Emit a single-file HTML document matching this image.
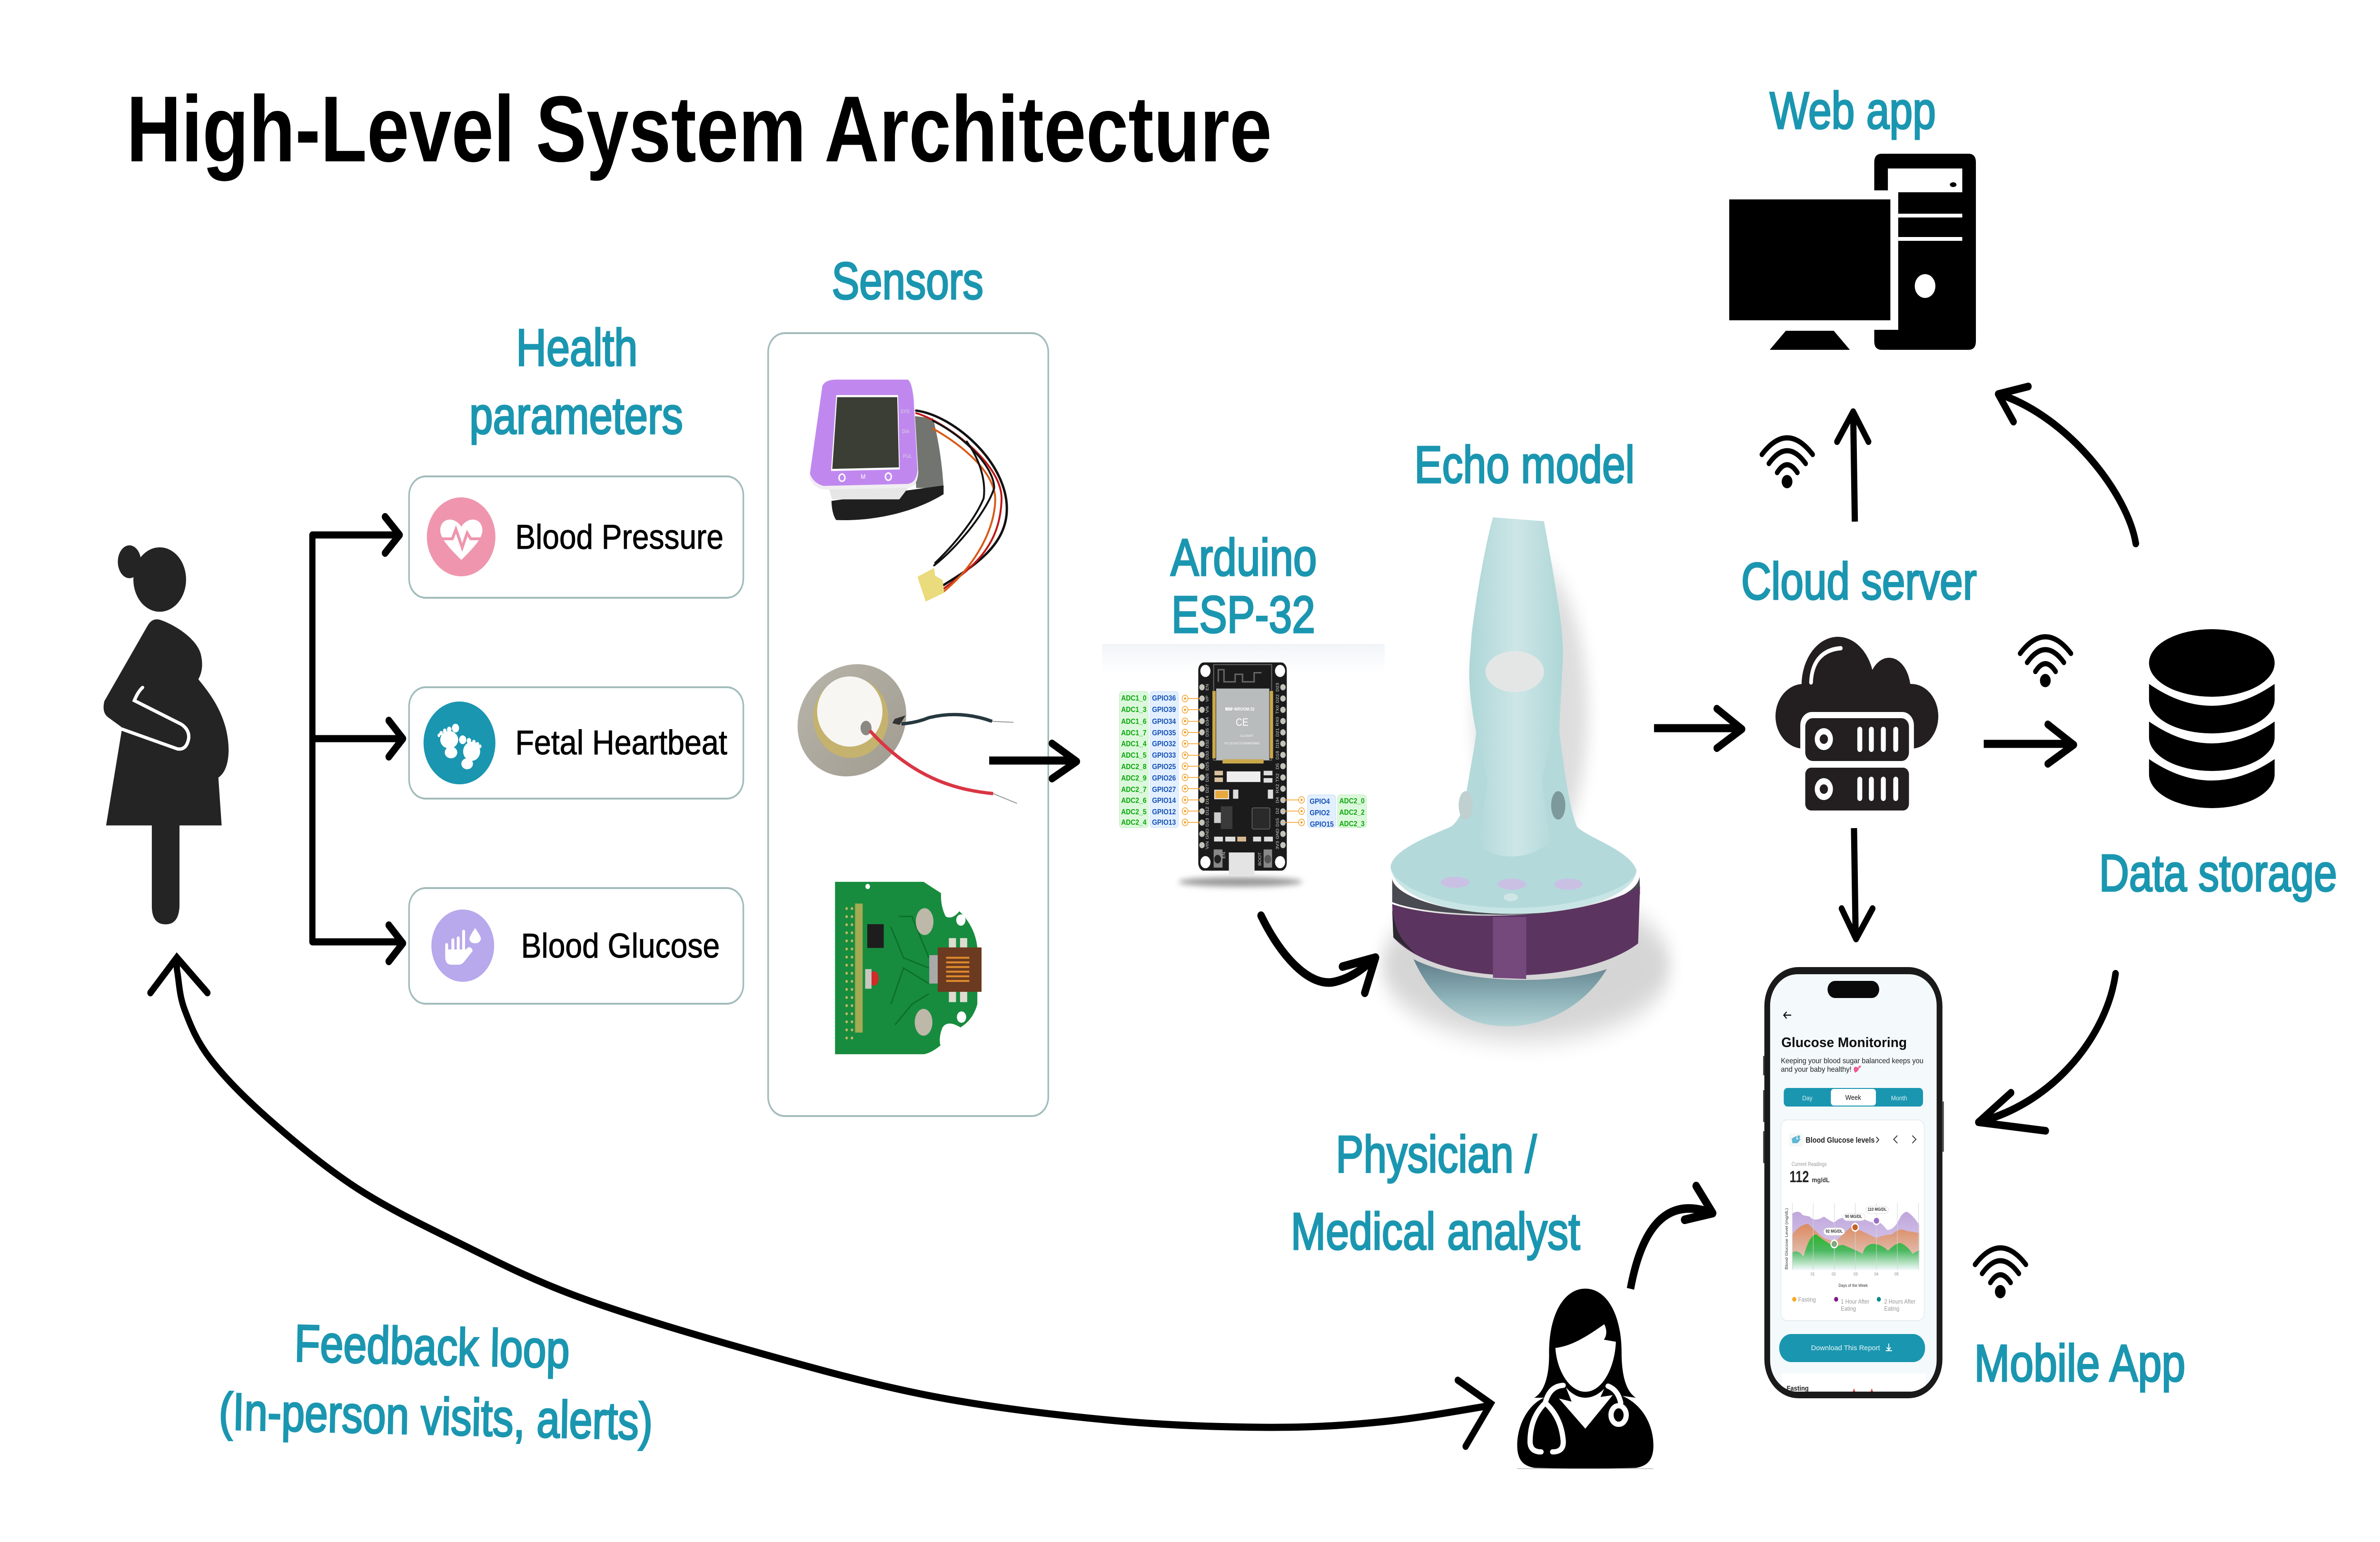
<!DOCTYPE html>
<html><head><meta charset="utf-8"><title>High-Level System Architecture</title>
<style>
html,body{margin:0;padding:0;background:#fff;width:100%;height:100%;overflow:hidden}
svg{display:block;width:100%;height:100%;font-family:"Liberation Sans",sans-serif}
.t{fill:#1b96b0;stroke:#1b96b0;stroke-width:3.5;font-size:110px}
.c{fill:#000;stroke:#000;stroke-width:1;font-size:72px}
.a{fill:none;stroke:#000;stroke-width:16;stroke-linecap:round;stroke-linejoin:round}
.m{fill:none;stroke:#000;stroke-width:15;stroke-linecap:round;stroke-linejoin:miter;stroke-miterlimit:8}
.b{fill:none;stroke:#000;stroke-width:17;stroke-linejoin:round}
.n{vector-effect:non-scaling-stroke}
.g{fill:#08a808;font-size:16px;font-weight:bold;text-anchor:middle}
.u{fill:#1450b8;font-size:16px;font-weight:bold;text-anchor:middle}
.p{fill:#ddd;font-size:10px;text-anchor:middle}
.w{fill:none;stroke:#000;stroke-width:11;stroke-linecap:round}
</style></head><body>
<svg xmlns="http://www.w3.org/2000/svg" viewBox="0 0 5760 3240" preserveAspectRatio="none">
<defs>
<linearGradient id="pg" x1="0" y1="0" x2="0" y2="1"><stop offset="0" stop-color="#bfa6dc"/><stop offset=".65" stop-color="#d8c8ea"/><stop offset="1" stop-color="#fff"/></linearGradient>
<linearGradient id="og" x1="0" y1="0" x2="0" y2="1"><stop offset="0" stop-color="#dc8a60"/><stop offset=".6" stop-color="#e0b8a8"/><stop offset="1" stop-color="#fff"/></linearGradient>
<linearGradient id="gg" x1="0" y1="0" x2="0" y2="1"><stop offset="0" stop-color="#2db52d"/><stop offset=".45" stop-color="#4cb860"/><stop offset="1" stop-color="#f4fafc"/></linearGradient>
<linearGradient id="bowl" x1="0" y1="0" x2="0" y2="1"><stop offset="0" stop-color="#5e7c88"/><stop offset=".6" stop-color="#8fb4ba"/><stop offset="1" stop-color="#b4d4d6"/></linearGradient>
<linearGradient id="neck" x1="0" y1="0" x2="1" y2="0"><stop offset="0" stop-color="#aed6d7"/><stop offset=".5" stop-color="#cde6e7"/><stop offset="1" stop-color="#aed6d7"/></linearGradient>
<linearGradient id="ring" x1="0" y1="0" x2="1" y2="1"><stop offset="0" stop-color="#b8b4aa"/><stop offset="1" stop-color="#a09c90"/></linearGradient>
<linearGradient id="ardbg" x1="0" y1="0" x2="0" y2="1"><stop offset="0" stop-color="#f1f4f8"/><stop offset="1" stop-color="#fff"/></linearGradient>
<filter id="blur" x="-30%" y="-30%" width="160%" height="160%"><feGaussianBlur stdDeviation="32"/></filter>
<filter id="blur2" x="-30%" y="-100%" width="160%" height="300%"><feGaussianBlur stdDeviation="6"/></filter>
<clipPath id="scr"><rect x="4284" y="2047" width="403" height="877" rx="66"/></clipPath>
</defs>

<rect width="5760" height="3240" fill="#fff"/>

<!-- Title and labels -->
<text x="306" y="339" font-size="197" font-weight="bold" textLength="2772" lengthAdjust="spacingAndGlyphs">High-Level System Architecture</text>
<text class="t" x="1249" y="768" textLength="294" lengthAdjust="spacingAndGlyphs">Health</text>
<text class="t" x="1136" y="911" textLength="517" lengthAdjust="spacingAndGlyphs">parameters</text>
<text class="t" x="2013" y="628" textLength="367" lengthAdjust="spacingAndGlyphs">Sensors</text>
<text class="t" x="2833" y="1209" textLength="354" lengthAdjust="spacingAndGlyphs">Arduino</text>
<text class="t" x="2835" y="1329" textLength="348" lengthAdjust="spacingAndGlyphs">ESP-32</text>
<text class="t" x="3423" y="1014" textLength="533" lengthAdjust="spacingAndGlyphs">Echo model</text>
<text class="t" x="4214" y="1259" textLength="570" lengthAdjust="spacingAndGlyphs">Cloud server</text>
<text class="t" x="5080" y="1872" textLength="576" lengthAdjust="spacingAndGlyphs">Data storage</text>
<text class="t" x="4283" y="270" textLength="402" lengthAdjust="spacingAndGlyphs">Web app</text>
<text class="t" x="3233" y="2463" textLength="486" lengthAdjust="spacingAndGlyphs">Physician /</text>
<text class="t" x="3124" y="2625" textLength="700" lengthAdjust="spacingAndGlyphs">Medical analyst</text>
<text class="t" x="4778" y="2902" textLength="511" lengthAdjust="spacingAndGlyphs">Mobile App</text>
<text class="t" transform="rotate(1.2 712 2860)" x="712" y="2860" textLength="666" lengthAdjust="spacingAndGlyphs">Feedback loop</text>
<text class="t" transform="rotate(1.2 529 3003)" x="529" y="3003" textLength="1050" lengthAdjust="spacingAndGlyphs">(In-person visits, alerts)</text>

<!-- Pregnant figure -->
<g transform="translate(200 1100) scale(.3189 .5741)" fill="#242424">
<ellipse cx="585" cy="205" rx="200" ry="118"/>
<ellipse cx="355" cy="140" rx="88" ry="60"/>
<path d="M495 372Q530 345 585 352C700 370 860 420 895 475Q925 530 878 570C980 630 1105 710 1108 830Q1105 905 1030 930L1055 1105L735 1105L735 1400Q730 1467 630 1467Q525 1467 525 1400L525 1105L178 1105L295 762L295 745L190 708Q145 690 165 650Z"/>
<path class="n" d="M455 600Q420 615 392 648L750 735Q810 755 805 785Q790 830 720 825L295 752" fill="none" stroke="#fff" stroke-width="7" stroke-linecap="round"/>
</g>

<!-- Bracket arrows -->
<path d="M967 1124H756V1979H975M756 1552H975" fill="none" stroke="#000" stroke-width="15" stroke-linejoin="round"/>
<path class="a" d="M932 1086L967 1124L932 1162M941 1514L975 1552L941 1590M941 1944L975 1982L941 2020"/>

<!-- Cards -->
<g fill="#fff" stroke="#a3bcbc" stroke-width="4">
<rect x="990" y="1001" width="809" height="255" rx="40"/>
<rect x="990" y="1444" width="809" height="234" rx="40"/>
<rect x="990" y="1866" width="809" height="243" rx="40"/>
<rect x="1859" y="700" width="678" height="1645" rx="40"/>
</g>
<circle cx="1116" cy="1128" r="83" fill="#ef96ae"/>
<circle cx="1112" cy="1561" r="87" fill="#1a96b0"/>
<circle cx="1120" cy="1987" r="76" fill="#b8a8ec"/>
<text class="c" x="1247" y="1153" textLength="504" lengthAdjust="spacingAndGlyphs">Blood Pressure</text>
<text class="c" x="1247" y="1585" textLength="513" lengthAdjust="spacingAndGlyphs">Fetal Heartbeat</text>
<text class="c" x="1261" y="2012" textLength="481" lengthAdjust="spacingAndGlyphs">Blood Glucose</text>
<g transform="translate(200 950) scale(1.0846 .765)">
<path d="M845 205C830 175 798 180 798 215C798 235 815 260 845 296C875 260 892 235 892 215C892 180 860 175 845 205Z" fill="#fff"/>
<path class="n" d="M795 238H825L833 212L847 262L858 222L866 238H895" fill="none" stroke="#ef96ae" stroke-width="6"/>
<g fill="#fff">
<ellipse cx="818" cy="790" rx="20" ry="24"/><ellipse cx="822" cy="825" rx="14" ry="16"/>
<ellipse cx="832" cy="758" rx="8" ry="12"/><ellipse cx="818" cy="762" rx="5" ry="8"/><ellipse cx="808" cy="766" rx="4" ry="7"/><ellipse cx="800" cy="772" rx="4" ry="6"/><ellipse cx="795" cy="778" rx="3" ry="5"/>
<ellipse cx="868" cy="822" rx="19" ry="26"/><ellipse cx="858" cy="856" rx="13" ry="15"/>
<ellipse cx="848" cy="790" rx="8" ry="12"/><ellipse cx="862" cy="793" rx="5" ry="8"/><ellipse cx="873" cy="797" rx="4" ry="7"/><ellipse cx="881" cy="802" rx="4" ry="6"/><ellipse cx="887" cy="808" rx="3" ry="5"/>
</g>
</g>
<path d="M1081 1985V1998M1096 1975V1998M1109 1971V1998M1122 1957V1998" stroke="#fff" stroke-width="7" stroke-linecap="round" fill="none"/>
<path d="M1077.5 1995H1125.5V1996L1134 1990Q1142 1990 1144 1998L1124 2020Q1118 2027 1110 2027H1092Q1079 2027 1077.5 2013Z" fill="#fff"/>
<path d="M1150 1950Q1164 1968 1164 1972Q1162 1982 1150 1982Q1137 1982 1136 1972Q1137 1966 1150 1950Z" fill="#fff"/>

<!-- Sensors panel images -->
<g transform="translate(1850 700) scale(.5102 1.0846)">
<path d="M700 160L800 165Q840 230 850 300L720 300Z" fill="#72756f"/>
<path d="M318 325L850 295V312C700 350 500 365 340 362Q320 350 318 325Z" fill="#1f1f1f"/>
<path d="M300 290H700L640 322H320Z" fill="#e6e6e6"/>
<path d="M275 105Q285 90 340 90H680Q705 95 710 130L730 270Q725 298 680 300L280 303Q225 298 213 278Z" fill="#f1eef2"/>
<path d="M275 102Q290 90 340 90H680Q700 95 708 130L726 265Q722 290 680 292L280 296Q230 290 216 272Z" fill="#c088ef"/>
<path d="M341 120H634L642 264L316 267Z" fill="#fff"/>
<path d="M345 124H630L638 260L322 263Z" fill="#3b3e35"/>
<ellipse cx="368" cy="280" rx="14" ry="7" fill="none" stroke="#fff" stroke-width="3" class="n"/>
<ellipse cx="588" cy="278" rx="14" ry="7" fill="none" stroke="#fff" stroke-width="3" class="n"/>
<g fill="none" stroke-linecap="round">
<path class="n" d="M720 150C900 160 1150 250 1150 340C1150 410 1000 450 850 488" stroke="#111" stroke-width="5"/>
<path class="n" d="M720 155C850 170 1125 250 1125 320C1120 410 1000 450 850 495" stroke="#c01818" stroke-width="4"/>
<path class="n" d="M800 185C950 220 1090 270 1095 320C1095 380 1000 450 852 500" stroke="#d85a18" stroke-width="4"/>
<path class="n" d="M800 170C950 200 1090 260 1090 300C1060 340 930 410 805 450" stroke="#111" stroke-width="4"/>
<path class="n" d="M960 210C1030 250 1050 290 1040 320C1000 360 900 410 810 445" stroke="#111" stroke-width="4"/>
</g>
<path d="M726 472L805 455L810 470L845 478L853 503L765 520Z" fill="#eadb7c"/>
<ellipse cx="415" cy="750" rx="258" ry="108" fill="url(#ring)" transform="rotate(-3 415 750)"/>
<ellipse cx="410" cy="745" rx="178" ry="78" fill="#c4b26e"/>
<ellipse cx="405" cy="733" rx="155" ry="68" fill="#f7f6f2"/>
<ellipse cx="482" cy="765" rx="26" ry="14" fill="#8a8880"/>
<path class="n" d="M620 748L665 742L640 758L610 755Z" fill="#333" stroke="#333" stroke-width="2"/>
<g fill="none">
<path class="n" d="M650 757Q720 755 780 745Q930 730 1080 752" stroke="#26383f" stroke-width="7"/>
<path class="n" d="M1080 752L1182 754M1085 892L1198 911" stroke="#999" stroke-width="2"/>
<path class="n" d="M500 770C700 860 900 885 1085 892" stroke="#d93544" stroke-width="7"/>
</g>
<path d="M335 1063L755 1063Q800 1075 838 1085Q835 1110 860 1130Q890 1137 925 1120Q1000 1150 1010 1190L1010 1300Q990 1330 930 1345Q870 1330 845 1345Q825 1365 835 1380Q790 1395 755 1397L335 1397Z" fill="#178c3e"/>
<g fill="none" stroke="#0d6f2c">
<path class="n" d="M600 1150L660 1210L780 1230M600 1300L660 1230L780 1260M640 1130H700L780 1210M620 1340L700 1300L780 1280" stroke-width="3"/>
</g>
<rect x="488" y="1145" width="78" height="46" fill="#1d1d1d"/>
<rect x="430" y="1105" width="36" height="250" fill="#c9b25a" opacity=".8"/>
<ellipse cx="760" cy="1140" rx="42" ry="26" fill="#bdb8a8"/>
<ellipse cx="755" cy="1335" rx="42" ry="26" fill="#bdb8a8"/>
<ellipse cx="520" cy="1250" rx="22" ry="14" fill="#d22a2a"/>
<rect x="478" y="1232" width="30" height="38" fill="#c8c8c0"/>
<ellipse cx="490" cy="1072" rx="11" ry="5" fill="#fff"/>
<ellipse cx="932" cy="1137" rx="22" ry="11" fill="#fff"/>
<ellipse cx="935" cy="1325" rx="22" ry="11" fill="#fff"/>
<rect x="875" y="1172" width="34" height="20" fill="#dedbcf"/><rect x="928" y="1172" width="34" height="20" fill="#dedbcf"/>
<rect x="875" y="1276" width="34" height="20" fill="#dedbcf"/><rect x="928" y="1276" width="34" height="20" fill="#dedbcf"/>
<rect x="782" y="1205" width="45" height="55" fill="#aaa"/>
<rect x="822" y="1190" width="208" height="86" fill="#6b3a20"/>
<path class="n" d="M862 1210H972M862 1219H972M862 1228H972M862 1237H972M862 1246H972M862 1255H972" stroke="#e08a2c" stroke-width="4" fill="none"/>
</g>
<path d="M2049 1909V2197M2062 1909V2197" stroke="#c7b565" stroke-width="6" stroke-linecap="round" stroke-dasharray="0 17" fill="none"/>
<g font-size="11" fill="#d8d4e0" text-anchor="middle">
<text x="2190" y="868">SYS</text><text x="2192" y="910">DIA</text><text x="2196" y="962">PUL</text>
<text x="2089" y="1006" font-size="14" fill="#fff">M</text>
</g>
<path class="b" d="M2394 1598H2605"/>
<path class="a" d="M2546 1562L2606 1600L2546 1636"/>

<!-- Arduino -->
<rect x="2667" y="1353" width="684" height="60" fill="url(#ardbg)"/>
<ellipse cx="3002" cy="1853" rx="150" ry="10" fill="#999" filter="url(#blur2)"/>
<rect x="2709" y="1453" width="70" height="286" rx="7" fill="#dcf8dc" stroke="#b8ecb8" stroke-width="1"/>
<rect x="2783" y="1453" width="69" height="286" rx="7" fill="#e2efff" stroke="#c8dcf5" stroke-width="1"/>
<rect x="3164" y="1670" width="69" height="69" rx="7" fill="#e2efff" stroke="#c8dcf5" stroke-width="1"/>
<rect x="3237" y="1670" width="70" height="69" rx="7" fill="#dcf8dc" stroke="#b8ecb8" stroke-width="1"/>
<g transform="translate(2650 1050) scale(.5102 .6378)">
<rect x="490" y="536" width="420" height="686" rx="26" fill="#1b1b1b"/>
<rect class="n" x="563" y="543" width="275" height="315" fill="none" stroke="#666" stroke-width="2"/>
<path class="n" d="M585 600V560H612V600H665V575H700V600H755V570H790" fill="none" stroke="#666" stroke-width="3"/>
<rect x="575" y="622" width="252" height="236" fill="#b9bcbc"/>
<rect x="557" y="630" width="16" height="222" fill="#caa84c"/>
<rect x="829" y="630" width="16" height="222" fill="#caa84c"/>
<rect x="605" y="855" width="195" height="14" fill="#caa84c"/>
<g fill="#fff">
<ellipse cx="524" cy="564" rx="24" ry="20"/><ellipse cx="878" cy="564" rx="24" ry="20"/>
<ellipse cx="524" cy="1194" rx="24" ry="20"/><ellipse cx="878" cy="1194" rx="24" ry="20"/>
</g>
<rect x="625" y="895" width="160" height="35" fill="#eee"/>
<rect class="n" x="568" y="957" width="66" height="28" fill="#e8a83c" stroke="#eee" stroke-width="2"/>
<rect x="655" y="955" width="25" height="30" fill="#ddd"/><rect x="820" y="955" width="25" height="30" fill="#ddd"/>
<rect x="567" y="893" width="40" height="15" fill="#d8c0a0"/><rect x="567" y="915" width="40" height="15" fill="#d8c0a0"/>
<rect x="800" y="893" width="42" height="15" fill="#ddd"/><rect x="800" y="917" width="42" height="15" fill="#ddd"/>
<rect x="597" y="1010" width="55" height="75" fill="#3a3a3a"/><rect x="565" y="1030" width="32" height="35" fill="#ccc"/>
<rect class="n" x="745" y="1015" width="85" height="70" rx="6" fill="#2a2a2a" stroke="#888" stroke-width="1"/>
<rect x="565" y="1110" width="42" height="16" fill="#ddd"/><rect x="618" y="1110" width="48" height="16" fill="#ddd"/><rect x="675" y="1110" width="42" height="16" fill="#d8b890"/>
<rect x="750" y="1110" width="38" height="16" fill="#ddd"/><rect x="802" y="1110" width="42" height="16" fill="#ddd"/>
<rect x="563" y="1152" width="42" height="60" fill="#888"/><ellipse cx="582" cy="1184" rx="16" ry="14" fill="#222"/>
<rect x="800" y="1152" width="40" height="60" fill="#888"/><ellipse cx="820" cy="1184" rx="16" ry="14" fill="#555"/>
<path d="M635 1162H757V1240H635Z" fill="#e4e4e4"/>
</g>
<path d="M2909 1444V1780M3105 1444V1780" stroke="#c4c4bc" stroke-width="13" stroke-linecap="round" stroke-dasharray="0 23.7" fill="none"/>
<g fill="none" stroke="#f59a1c" stroke-width="1.5">
<path d="M2868 1467.7H2905M2868 1491.3H2905M2868 1515.6H2905M2868 1539.2H2905M2868 1562.8H2905M2868 1587H2905M2868 1610H2905M2868 1633.5H2905M2868 1657H2905M2868 1680.7H2905M2868 1704.3H2905M2868 1728H2905M3108 1680.7H3150M3108 1704.3H3150M3108 1728H3150"/>
<g fill="#fff">
<circle cx="2868" cy="1467.7" r="7"/><circle cx="2868" cy="1491.3" r="7"/><circle cx="2868" cy="1515.6" r="7"/><circle cx="2868" cy="1539.2" r="7"/><circle cx="2868" cy="1562.8" r="7"/><circle cx="2868" cy="1587" r="7"/><circle cx="2868" cy="1610" r="7"/><circle cx="2868" cy="1633.5" r="7"/><circle cx="2868" cy="1657" r="7"/><circle cx="2868" cy="1680.7" r="7"/><circle cx="2868" cy="1704.3" r="7"/><circle cx="2868" cy="1728" r="7"/><circle cx="3150" cy="1680.7" r="7"/><circle cx="3150" cy="1704.3" r="7"/><circle cx="3150" cy="1728" r="7"/>
</g></g>
<path d="M2868 1467.7V1730M3150 1680.7V1730" stroke="#f59a1c" stroke-width="5" stroke-linecap="round" stroke-dasharray="0 23.66" fill="none"/>
<g>
<text class="g" x="2744" y="1472">ADC1_0</text><text class="g" x="2744" y="1496">ADC1_3</text><text class="g" x="2744" y="1521">ADC1_6</text><text class="g" x="2744" y="1545">ADC1_7</text><text class="g" x="2744" y="1568">ADC1_4</text><text class="g" x="2744" y="1592">ADC1_5</text><text class="g" x="2744" y="1616">ADC2_8</text><text class="g" x="2744" y="1640">ADC2_9</text><text class="g" x="2744" y="1664">ADC2_7</text><text class="g" x="2744" y="1687">ADC2_6</text><text class="g" x="2744" y="1711">ADC2_5</text><text class="g" x="2744" y="1733">ADC2_4</text>
<text class="u" x="2817" y="1472">GPIO36</text><text class="u" x="2817" y="1496">GPIO39</text><text class="u" x="2817" y="1521">GPIO34</text><text class="u" x="2817" y="1545">GPIO35</text><text class="u" x="2817" y="1568">GPIO32</text><text class="u" x="2817" y="1592">GPIO33</text><text class="u" x="2817" y="1616">GPIO25</text><text class="u" x="2817" y="1640">GPIO26</text><text class="u" x="2817" y="1664">GPIO27</text><text class="u" x="2817" y="1687">GPIO14</text><text class="u" x="2817" y="1711">GPIO12</text><text class="u" x="2817" y="1733">GPIO13</text>
<text class="u" x="3194" y="1689">GPIO4</text><text class="u" x="3194" y="1713">GPIO2</text><text class="u" x="3199" y="1737">GPIO15</text>
<text class="g" x="3272" y="1688">ADC2_0</text><text class="g" x="3272" y="1712">ADC2_2</text><text class="g" x="3272" y="1736">ADC2_3</text>
</g>
<g>
<text class="p" x="2925" y="1444" transform="rotate(-90 2925 1444)">EN</text><text class="p" x="2925" y="1468" transform="rotate(-90 2925 1468)">VP</text><text class="p" x="2925" y="1491" transform="rotate(-90 2925 1491)">VN</text><text class="p" x="2925" y="1516" transform="rotate(-90 2925 1516)">D34</text><text class="p" x="2925" y="1539" transform="rotate(-90 2925 1539)">D35</text><text class="p" x="2925" y="1563" transform="rotate(-90 2925 1563)">D32</text><text class="p" x="2925" y="1587" transform="rotate(-90 2925 1587)">D33</text><text class="p" x="2925" y="1610" transform="rotate(-90 2925 1610)">D25</text><text class="p" x="2925" y="1634" transform="rotate(-90 2925 1634)">D26</text><text class="p" x="2925" y="1657" transform="rotate(-90 2925 1657)">D27</text><text class="p" x="2925" y="1681" transform="rotate(-90 2925 1681)">D14</text><text class="p" x="2925" y="1704" transform="rotate(-90 2925 1704)">D12</text><text class="p" x="2925" y="1728" transform="rotate(-90 2925 1728)">D13</text><text class="p" x="2925" y="1752" transform="rotate(-90 2925 1752)">GND</text><text class="p" x="2925" y="1776" transform="rotate(-90 2925 1776)">VIN</text>
<text class="p" x="3095" y="1444" transform="rotate(-90 3095 1444)">D23</text><text class="p" x="3095" y="1468" transform="rotate(-90 3095 1468)">D22</text><text class="p" x="3095" y="1491" transform="rotate(-90 3095 1491)">TX0</text><text class="p" x="3095" y="1516" transform="rotate(-90 3095 1516)">RX0</text><text class="p" x="3095" y="1539" transform="rotate(-90 3095 1539)">D21</text><text class="p" x="3095" y="1563" transform="rotate(-90 3095 1563)">D19</text><text class="p" x="3095" y="1587" transform="rotate(-90 3095 1587)">D18</text><text class="p" x="3095" y="1610" transform="rotate(-90 3095 1610)">D5</text><text class="p" x="3095" y="1634" transform="rotate(-90 3095 1634)">TX2</text><text class="p" x="3095" y="1657" transform="rotate(-90 3095 1657)">RX2</text><text class="p" x="3095" y="1681" transform="rotate(-90 3095 1681)">D4</text><text class="p" x="3095" y="1704" transform="rotate(-90 3095 1704)">D2</text><text class="p" x="3095" y="1728" transform="rotate(-90 3095 1728)">D15</text><text class="p" x="3095" y="1752" transform="rotate(-90 3095 1752)">GND</text><text class="p" x="3095" y="1776" transform="rotate(-90 3095 1776)">3V3</text>
<text x="3001" y="1493" font-size="9" font-weight="bold" fill="#fff" text-anchor="middle">ESP-WROOM-32</text>
<text x="3006" y="1525" font-size="22" fill="#fff" text-anchor="middle">CE</text>
<text x="3017" y="1548" font-size="6" fill="#fff" text-anchor="middle">211-161007</text>
<text x="3006" y="1564" font-size="6" fill="#fff" text-anchor="middle">FCC ID:2AC7Z-ESPWROOM32</text>
<text x="2965" y="1493" font-size="8" fill="#fff" font-weight="bold">WiFi</text>
<text class="p" x="2965" y="1797" transform="rotate(-90 2965 1797)" font-size="11">EN</text>
<text class="p" x="3052" y="1805" transform="rotate(-90 3052 1805)" font-size="11">BOOT</text>
</g>
<path class="a" style="stroke-width:18" d="M3052 1924C3100 2010 3170 2075 3230 2063C3270 2055 3300 2035 3325 2014"/>
<path class="a" style="stroke-width:18" d="M3249 2031L3329 2012L3303 2086"/>

<!-- Echo -->
<g transform="translate(3200 1000) scale(.574 .829)">
<ellipse cx="860" cy="1240" rx="610" ry="190" fill="#000" opacity=".16" filter="url(#blur)"/>
<ellipse cx="880" cy="600" rx="240" ry="380" fill="#000" opacity=".13" filter="url(#blur)"/>
<path d="M288 990C300 950 420 920 540 890C590 870 600 830 620 760C640 690 650 660 650 640C620 560 620 480 630 400C650 300 690 170 720 105L935 115C960 200 990 290 1010 400C1020 480 1000 600 1000 650C1020 740 1040 840 1075 890C1130 920 1300 950 1325 1000C1320 1050 1100 1100 800 1100C500 1100 300 1060 288 990Z" fill="#b4d9da"/>
<path d="M385 1225C480 1350 620 1395 780 1395C950 1395 1110 1340 1200 1250C1000 1290 600 1290 385 1225Z" fill="url(#bowl)"/>
<path d="M295 1020C300 1060 500 1110 800 1110C1100 1110 1330 1070 1338 1015L1340 1060C1200 1120 500 1130 295 1080Z" fill="#4a4a52"/>
<path d="M295 1085C500 1130 1100 1130 1340 1040L1332 1185C1100 1290 500 1300 300 1170Z" fill="#5b3560"/>
<path d="M720 1118H860V1275L720 1272Z" fill="#75497c"/>
<path d="M295 1100C310 1150 320 1170 400 1215L300 1170Z" fill="#2c2830"/>
<path d="M288 990C300 1040 500 1095 800 1095C1100 1095 1320 1040 1325 1000C1320 1060 1100 1110 800 1110C500 1110 300 1060 288 990Z" fill="#c8e5e5"/>
<path d="M720 105L935 115C960 220 1010 340 1015 440C1015 540 980 640 925 770C940 830 950 880 960 925C900 970 720 985 650 925C670 860 700 800 695 770C660 680 620 590 620 500C620 400 690 200 720 105Z" fill="url(#neck)"/>
<ellipse cx="812" cy="496" rx="123" ry="52" fill="#e4e6e6"/>
<ellipse cx="995" cy="835" rx="30" ry="36" fill="#6b8387" opacity=".75"/>
<ellipse cx="605" cy="835" rx="30" ry="36" fill="#c0cfd0"/>
<ellipse cx="560" cy="1030" rx="60" ry="14" fill="#c9c0e4"/>
<ellipse cx="800" cy="1035" rx="60" ry="14" fill="#c9c0e4"/>
<ellipse cx="1038" cy="1035" rx="60" ry="14" fill="#c9c0e4"/>
<ellipse cx="795" cy="1068" rx="30" ry="10" fill="#d0e6e6"/>
</g>

<!-- Arrows right side -->
<path class="b" d="M4003 1530H4212"/><path class="a" d="M4155 1489L4216 1532L4155 1572"/>
<path class="b" d="M4801 1563H5015"/><path class="a" d="M4956 1522L5019 1565L4956 1605"/>
<path d="M4487 1740L4491 1970" fill="none" stroke="#000" stroke-width="15"/><path class="a" style="stroke-width:14" d="M4457 1909L4492 1973L4532 1909"/>
<path d="M4489 1096L4485 868" fill="none" stroke="#000" stroke-width="15"/><path class="a" style="stroke-width:14" d="M4446 928L4485 865L4522 928"/>
<path class="a" d="M5169 1142C5150 1040 5010 880 4845 830"/><path class="a" d="M4909 812L4836 828L4873 886"/>
<path class="a" d="M5120 2046C5100 2170 4980 2310 4800 2355"/><path class="a" d="M4867 2296L4788 2358L4951 2376"/>
<path d="M3946 2708C3969 2600 4020 2510 4140 2548" fill="none" stroke="#000" stroke-width="18"/>
<path class="a" style="stroke-width:18" d="M4105 2492L4145 2549L4077 2563"/>

<!-- Feedback loop arrow -->
<path d="M428 2016L428 2036C434 2065 433.3 2090.3 447 2122C460.7 2153.7 476 2187.7 510 2226C544 2264.3 592.5 2307.2 651 2352C709.5 2396.8 785 2452 861 2495C937 2538 1017.2 2571.7 1107 2610C1196.8 2648.3 1281.5 2687 1400 2725C1518.5 2763 1676 2803.3 1818 2838C1960 2872.7 2107.3 2908.7 2252 2933C2396.7 2957.3 2552.2 2973 2686 2984C2819.8 2995 2946.5 2998.3 3055 2999C3163.5 2999.7 3243 2996 3337 2988C3431 2980 3525 2965 3608 2953" fill="none" stroke="#000" stroke-width="15"/>
<path class="m" d="M364 2086L428 2012L502 2086"/>
<path class="m" d="M3528 2900L3608 2949L3547 3039"/>

<!-- WiFi icons -->
<g>
<path class="w" d="M4264 955Q4325 885 4387 955M4281 974Q4325 920 4370 974M4301 993Q4325 960 4350 993"/><ellipse cx="4325" cy="1012" rx="13" ry="14"/>
</g>
<g transform="translate(625 418)"><path class="w" d="M4264 955Q4325 885 4387 955M4281 974Q4325 920 4370 974M4301 993Q4325 960 4350 993"/><ellipse cx="4325" cy="1012" rx="13" ry="14"/></g>
<g transform="translate(516 1702)"><path class="w" d="M4264 955Q4325 885 4387 955M4281 974Q4325 920 4370 974M4301 993Q4325 960 4350 993"/><ellipse cx="4325" cy="1012" rx="13" ry="14"/></g>

<!-- Computer -->
<rect x="4185" y="419" width="390" height="254"/>
<path d="M4322 695H4438L4477 735H4283Z"/>
<path d="M4554 323H4764Q4782 323 4782 341V717Q4782 735 4764 735H4554Q4536 735 4536 717V693H4594V404H4536V341Q4536 323 4554 323Z"/>
<rect x="4569" y="354" width="180" height="50" fill="#fff"/>
<rect x="4536" y="400" width="33" height="4" fill="#fff"/>
<ellipse cx="4727" cy="388" rx="8" ry="5"/>
<rect x="4594" y="449" width="155" height="8" fill="#fff"/>
<rect x="4594" y="498" width="155" height="8" fill="#fff"/>
<circle cx="4659" cy="601" r="25" fill="#fff"/>

<!-- Cloud server -->
<g fill="#231f20">
<ellipse cx="4365" cy="1505" rx="68" ry="68"/><ellipse cx="4625" cy="1505" rx="66" ry="68"/>
<ellipse cx="4448" cy="1440" rx="88" ry="102"/><ellipse cx="4572" cy="1450" rx="52" ry="68"/>
<rect x="4365" y="1437" width="260" height="110"/>
</g>
<path d="M4455 1362C4410 1365 4385 1390 4383 1434" fill="none" stroke="#fff" stroke-width="9" stroke-linecap="round"/>
<rect x="4357" y="1496" width="275" height="110" rx="28" fill="#fff"/>
<rect x="4340" y="1575" width="310" height="35" fill="#fff"/>
<g fill="#231f20"><rect x="4369" y="1509" width="251" height="90" rx="18"/><rect x="4369" y="1613" width="251" height="90" rx="14"/></g>
<g fill="#fff"><ellipse cx="4414" cy="1553" rx="22" ry="23"/><ellipse cx="4414" cy="1658" rx="22" ry="23"/></g>
<g fill="#231f20"><ellipse cx="4414" cy="1553" rx="10" ry="10"/><ellipse cx="4414" cy="1658" rx="10" ry="10"/></g>
<path d="M4501 1533V1574M4529 1533V1574M4558 1533V1574M4588 1533V1574M4501 1638V1677M4529 1638V1677M4558 1638V1677M4588 1638V1677" stroke="#fff" stroke-width="12" stroke-linecap="round" fill="none"/>

<!-- Database -->
<ellipse cx="5353" cy="1393" rx="152" ry="71"/>
<path d="M5201 1437Q5353 1529 5505 1437V1470A152 71 0 0 1 5201 1470Z"/>
<path d="M5201 1516Q5353 1608 5505 1516V1549A152 71 0 0 1 5201 1549Z"/>
<path d="M5201 1595Q5353 1685 5505 1595V1627A152 71 0 0 1 5201 1627Z"/>

<!-- Phone -->
<g transform="translate(4200 2000) scale(.3827 .625)">
<path d="M175 350H183V415H175ZM175 465H183V572H175ZM175 603H183V710H175ZM1310 503H1318V672H1310Z" fill="#444"/>
</g>
<rect x="4270" y="2032" width="431" height="906" rx="82" fill="#1a1a1a"/>
<rect x="4284" y="2047" width="403" height="877" rx="66" fill="#f4fafc"/>
<g clip-path="url(#scr)">
<rect x="4312" y="2886" width="349" height="60" fill="#fff"/>
<text x="4324" y="2922" font-size="15" font-weight="bold" fill="#222">Fasting</text>
<path d="M4484 2924l3-7 3 7ZM4527 2924l3-7 3 7Z" fill="#d44"/>
</g>
<rect x="4423" y="2061" width="125" height="36" rx="18" fill="#0a0a0a"/>
<path d="M4318 2133H4335M4324 2126L4317 2133L4324 2140" fill="none" stroke="#111" stroke-width="2.5"/>
<text x="4311" y="2200" font-size="29" font-weight="bold" textLength="304" lengthAdjust="spacingAndGlyphs" fill="#0c0c0c">Glucose Monitoring</text>
<text x="4310" y="2234" font-size="16" textLength="345" lengthAdjust="spacingAndGlyphs" fill="#222">Keeping your blood sugar balanced keeps you</text>
<text x="4310" y="2252" font-size="16" textLength="171" lengthAdjust="spacingAndGlyphs" fill="#222">and your baby healthy!</text>
<path d="M4487 2243q5-3 8 0q4-2 4 3q-2 5-9 8q-5-5-3-11ZM4497 2240l8-1-4 6Z" fill="#ef5a9a"/>
<rect x="4317" y="2286" width="337" height="39" rx="9" fill="#1a96b0"/>
<rect x="4431" y="2288" width="109" height="35" rx="7" fill="#fff"/>
<text x="4374" y="2312" font-size="14" fill="#d8f0f4" text-anchor="middle">Day</text>
<text x="4485" y="2311" font-size="15" fill="#111" text-anchor="middle">Week</text>
<text x="4596" y="2312" font-size="14" fill="#d8f0f4" text-anchor="middle">Month</text>
<rect x="4310" y="2353" width="347" height="422" rx="15" fill="#fff" stroke="#e4edf0" stroke-width="2"/>
<rect x="4329" y="2381" width="35" height="28" rx="6" fill="#f6f8f8"/>
<path d="M4336 2392h3v-2h3v-1h3v-2h3v8l6-3 4 2-8 8h-12Z" fill="#5db6d6"/>
<circle cx="4353" cy="2389" r="3.5" fill="#5db6d6"/>
<text x="4370" y="2401" font-size="17" font-weight="bold" fill="#222" textLength="167" lengthAdjust="spacingAndGlyphs">Blood Glucose levels</text>
<path d="M4541 2389l6 6-6 6M4592 2386l-9 8 9 8M4628 2386l9 8-9 8" fill="none" stroke="#333" stroke-width="2"/>
<text x="4336" y="2450" font-size="12" fill="#999" textLength="85" lengthAdjust="spacingAndGlyphs">Current Readings</text>
<text x="4331" y="2484" font-size="34" font-weight="bold" fill="#222" textLength="47" lengthAdjust="spacingAndGlyphs">112</text>
<text x="4385" y="2484" font-size="14" font-weight="bold" fill="#333" textLength="43" lengthAdjust="spacingAndGlyphs">mg/dL</text>
<g transform="translate(4200 2000) scale(.3827 .625)">
<path d="M360 880Q400 865 425 885L470 890Q500 910 560 890Q600 905 625 910Q680 880 760 905L820 900Q870 915 900 905Q930 915 960 935Q1000 935 1030 905Q1060 870 1090 875Q1130 890 1162 918V1070H360Z" fill="url(#pg)"/>
<path d="M360 950Q410 915 460 915Q500 935 530 950Q590 975 640 970Q680 950 730 925Q790 935 890 962Q950 950 990 950Q1040 925 1080 938L1162 945V1070H360Z" fill="url(#og)"/>
<path d="M360 1010Q400 1000 430 1025Q470 950 510 950Q570 975 625 990L680 985Q750 1000 805 1015Q820 980 880 982Q930 985 965 1005Q1020 975 1050 980Q1090 990 1120 1015L1162 1003V1070H360Z" fill="url(#gg)"/>
<path class="n" d="M360 845V1070M492 845V1070M626 845V1070M758 845V1070M892 845V1070M1024 845V1070M1158 845V1070" stroke="#d0d4d8" stroke-width="1" fill="none"/>
<ellipse cx="625" cy="982" rx="24" ry="15" fill="#fff"/><ellipse cx="625" cy="982" rx="17" ry="10" fill="#80a878"/>
<ellipse cx="757" cy="926" rx="24" ry="15" fill="#fff"/><ellipse cx="757" cy="926" rx="17" ry="10" fill="#c4622e"/>
<ellipse cx="892" cy="904" rx="24" ry="15" fill="#fff"/><ellipse cx="892" cy="904" rx="17" ry="10" fill="#9a70c4"/>
<rect class="n" x="558" y="928" width="132" height="25" rx="30" ry="12" fill="#fff" stroke="#ddd" stroke-width="1"/>
<rect class="n" x="680" y="880" width="142" height="24" rx="30" ry="12" fill="#fff" stroke="#ddd" stroke-width="1"/>
<rect class="n" x="825" y="855" width="143" height="25" rx="30" ry="12" fill="#fff" stroke="#ddd" stroke-width="1"/>
<ellipse cx="372" cy="1168" rx="13" ry="8" fill="#f7a91c"/><ellipse cx="637" cy="1168" rx="13" ry="8" fill="#7d1a86"/><ellipse cx="907" cy="1168" rx="13" ry="8" fill="#0b8a8a"/>
</g>
<g font-size="9" fill="#333" text-anchor="middle">
<text x="4439" y="2590" font-weight="bold">92 MG/DL</text><text x="4486" y="2559" font-weight="bold">90 MG/DL</text><text x="4543" y="2544" font-weight="bold">110 MG/DL</text>
<text x="4387" y="2680" fill="#888">01</text><text x="4438" y="2680" fill="#888">02</text><text x="4491" y="2680" fill="#888">03</text><text x="4541" y="2680" fill="#888">04</text><text x="4590" y="2680" fill="#888">05</text>
<text x="4485" y="2704">Days of the Week</text>
<text x="4327" y="2603" transform="rotate(-90 4327 2603)" font-size="10">Blood Glucose Level (mg/dL)</text>
</g>
<g font-size="13" fill="#999">
<text x="4352" y="2735">Fasting</text><text x="4455" y="2739">1 Hour After</text><text x="4455" y="2754">Eating</text><text x="4560" y="2739">2 Hours After</text><text x="4560" y="2754">Eating</text>
</g>
<rect x="4306" y="2803" width="353" height="59" rx="29" fill="#1a96b0"/>
<text x="4383" y="2837" font-size="15" fill="#e8f6f8" textLength="167" lengthAdjust="spacingAndGlyphs">Download This Report</text>
<path d="M4571 2823V2835M4566 2831L4571 2836L4576 2831M4564 2838H4579" fill="none" stroke="#fff" stroke-width="2"/>

<!-- Doctor -->
<g transform="translate(3500 2300) scale(.5102 .542)">
<path d="M660 752C760 752 832 850 832 1000C832 1080 850 1150 900 1175L835 1168C930 1200 983 1280 983 1360C983 1420 950 1440 900 1447Q660 1452 420 1447C370 1440 337 1420 337 1360C337 1280 390 1200 465 1175L418 1175C470 1150 490 1080 488 1000C488 850 560 752 660 752Z"/>
<path d="M518 982C600 975 680 930 750 890Q770 925 748 950L805 958C800 1060 740 1152 660 1152C585 1152 525 1070 518 982Z" fill="#fff"/>
<path d="M535 1178L595 1190L568 1135C600 1165 630 1175 660 1175C695 1175 725 1160 750 1140L732 1172L790 1165L660 1295Z" fill="#fff"/>
<g fill="none" stroke="#fff" stroke-linecap="round">
<path class="n" d="M555 1127Q490 1130 470 1195Q400 1250 398 1340Q395 1385 450 1385M470 1195Q545 1250 555 1340Q560 1385 505 1385M768 1130Q815 1145 828 1195" stroke-width="11"/>
<ellipse class="n" cx="818" cy="1242" rx="36" ry="36" stroke-width="11"/>
</g>
<path class="n" d="M337 1450H983" stroke="#999" stroke-width="1"/>
</g>
</svg>
</body></html>
